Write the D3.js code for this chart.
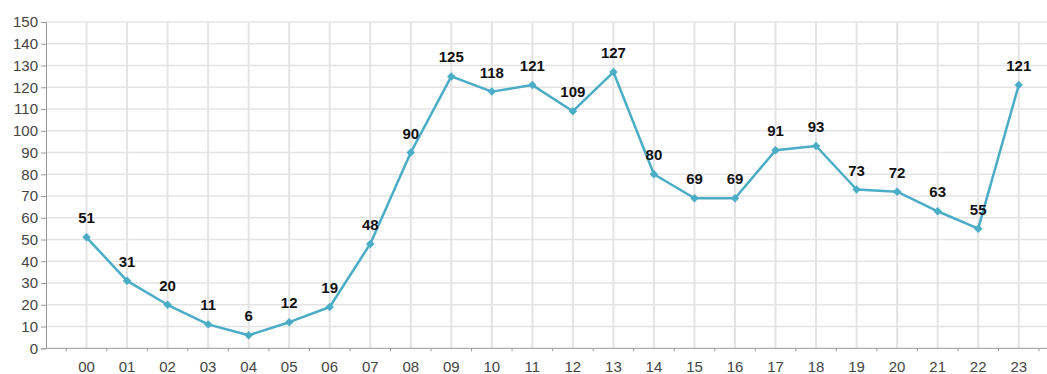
<!DOCTYPE html>
<html>
<head>
<meta charset="utf-8">
<script src="https://cdn.jsdelivr.net/npm/d3@7"></script>
<style>
  html, body { margin: 0; padding: 0; background: #fff; }
  svg { display: block; }
</style>
</head>
<body>
<svg id="chart" width="1047" height="374"></svg>
<script>
// Hourly counts, 00–23
const hours = ["00","01","02","03","04","05","06","07","08","09","10","11",
               "12","13","14","15","16","17","18","19","20","21","22","23"];
const counts = [51, 31, 20, 11, 6, 12, 19, 48, 90, 125, 118, 121,
                109, 127, 80, 69, 69, 91, 93, 73, 72, 63, 55, 121];
const yTicks = [0, 10, 20, 30, 40, 50, 60, 70, 80, 90, 100, 110, 120, 130, 140, 150];

const svg = d3.select("#chart");
const W = 1047;
const plotLeft = 46, plotTop = 22, plotBottom = 348.3;
const step = 40.53;

const x = d3.scaleLinear().domain([-1, 0]).range([plotLeft, plotLeft + step]);
const y = d3.scaleLinear().domain([0, 150]).range([plotBottom, plotTop]);

const font = "'Liberation Sans', Arial, sans-serif";

// horizontal grid
svg.append("g").selectAll("line").data(yTicks.filter(d => d > 0)).join("line")
  .attr("x1", plotLeft).attr("x2", W)
  .attr("y1", d => y(d)).attr("y2", d => y(d))
  .attr("stroke", "#e4e4e4").attr("stroke-width", 1.5);

// vertical grid at each hour
svg.append("g").selectAll("line").data(hours).join("line")
  .attr("x1", (d, i) => x(i)).attr("x2", (d, i) => x(i))
  .attr("y1", plotTop).attr("y2", plotBottom)
  .attr("stroke", "#e4e4e4").attr("stroke-width", 2);

// y axis
const yAxis = d3.axisLeft(y).tickValues(yTicks).tickSize(5).tickPadding(3);
const gy = svg.append("g").attr("transform", `translate(${plotLeft},0)`).call(yAxis);
gy.select(".domain").attr("stroke", "#999");
gy.selectAll(".tick line").attr("stroke", "#999");
gy.selectAll("text").attr("fill", "#444").style("font", `15px ${font}`);

// x axis: labels under each hour, small ticks halfway between
const gx = svg.append("g").attr("transform", `translate(0,${plotBottom})`);
gx.append("line").attr("x1", plotLeft).attr("x2", W).attr("y1", 0).attr("y2", 0)
  .attr("stroke", "#999");
gx.selectAll("line.t").data(d3.range(hours.length + 1)).join("line")
  .attr("class", "t")
  .attr("x1", i => x(i - 0.5)).attr("x2", i => x(i - 0.5))
  .attr("y1", 0).attr("y2", 3).attr("stroke", "#999");
gx.selectAll("text").data(hours).join("text")
  .attr("x", (d, i) => x(i)).attr("y", 24)
  .attr("text-anchor", "middle").attr("fill", "#444")
  .style("font", `15px ${font}`).text(d => d);

// series line
const color = "#4bacc6";
svg.append("path").datum(counts)
  .attr("fill", "none").attr("stroke", color).attr("stroke-width", 2.5)
  .attr("stroke-linejoin", "round")
  .attr("d", d3.line().x((d, i) => x(i)).y(d => y(d)));

// diamond markers
svg.append("g").selectAll("path").data(counts).join("path")
  .attr("transform", (d, i) => `translate(${x(i)},${y(d)}) rotate(45)`)
  .attr("d", "M-3,-3H3V3H-3Z").attr("fill", color);

// value labels
svg.append("g").selectAll("text").data(counts).join("text")
  .attr("x", (d, i) => x(i)).attr("y", d => y(d) - 14)
  .attr("text-anchor", "middle").attr("fill", "#111")
  .style("font", `bold 15px ${font}`).text(d => d);
</script>
</body>
</html>
